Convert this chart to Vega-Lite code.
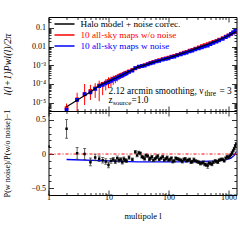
{
  "$schema": "https://vega.github.io/schema/vega-lite/v6.json",
  "padding": {"left": 1.5, "top": 14, "right": 2, "bottom": 2},
  "spacing": 0,
  "bounds": "flush",
  "config": {
    "view": {"stroke": "black", "strokeWidth": 1},
    "axis": {"domain": false, "grid": false, "labelFont": "Liberation Serif", "labelFontSize": 8, "labelColor": "black", "tickColor": "black", "tickWidth": 0.8, "titleFont": "Liberation Serif", "titleFontWeight": "normal", "titleColor": "black", "labelOverlap": false, "labelFlush": false},
    "text": {"font": "Liberation Serif"}
  },
  "datasets": {
    "red": [
      {"l": 2, "v": 5.2e-6, "lo": 3.7e-6, "hi": 9e-6},
      {"l": 3, "v": 1.5e-5, "lo": 3.4e-6, "hi": 3.4e-5},
      {"l": 4, "v": 2.8e-5, "lo": 7.5e-6, "hi": 1.0e-4},
      {"l": 5, "v": 4.3e-5, "lo": 1.4e-5, "hi": 9e-5},
      {"l": 6, "v": 5.8e-5, "lo": 1.8e-5, "hi": 1.1e-4},
      {"l": 7, "v": 8.5e-5, "lo": 1.2e-5, "hi": 1.5e-4},
      {"l": 8, "v": 1.0e-4, "lo": 2.5e-5, "hi": 1.3e-4},
      {"l": 9, "v": 1.2e-4, "lo": 4.5e-5, "hi": 1.8e-4},
      {"l": 10, "v": 1.45e-4, "lo": 6e-5, "hi": 2.3e-4},
      {"l": 11, "v": 1.6e-4, "lo": 7e-5, "hi": 2.5e-4},
      {"l": 12, "v": 1.9e-4, "lo": 9e-5, "hi": 2.8e-4},
      {"l": 13, "v": 2.1e-4, "lo": 1.1e-4, "hi": 3.0e-4},
      {"l": 14, "v": 2.35e-4, "lo": 1.35e-4, "hi": 3.3e-4},
      {"l": 15, "v": 2.6e-4, "lo": 1.6e-4, "hi": 3.6e-4},
      {"l": 16, "v": 2.95e-4, "lo": 1.9e-4, "hi": 3.9e-4},
      {"l": 17, "v": 3.2e-4, "lo": 2.2e-4, "hi": 4.2e-4},
      {"l": 18, "v": 3.45e-4, "lo": 2.45e-4, "hi": 4.5e-4},
      {"l": 19, "v": 3.8e-4, "lo": 2.8e-4, "hi": 4.8e-4},
      {"l": 20, "v": 4.1e-4, "lo": 3.1e-4, "hi": 5.1e-4},
      {"l": 22, "v": 4.7e-4, "lo": 3.7e-4, "hi": 5.7e-4},
      {"l": 25, "v": 5.7e-4, "lo": 4.7e-4, "hi": 6.8e-4},
      {"l": 28, "v": 6.8e-4, "lo": 5.7e-4, "hi": 7.9e-4},
      {"l": 32, "v": 8.2e-4, "lo": 7.0e-4, "hi": 9.4e-4},
      {"l": 36, "v": 9.3e-4, "lo": 8.1e-4, "hi": 1.05e-3},
      {"l": 40, "v": 1.03e-3, "lo": 9.2e-4, "hi": 1.15e-3},
      {"l": 45, "v": 1.17e-3, "lo": 1.06e-3, "hi": 1.28e-3},
      {"l": 50, "v": 1.34e-3, "lo": 1.24e-3, "hi": 1.44e-3},
      {"l": 56, "v": 1.5e-3, "lo": 1.4e-3, "hi": 1.6e-3},
      {"l": 63, "v": 1.68e-3, "lo": 1.58e-3, "hi": 1.78e-3},
      {"l": 70, "v": 1.86e-3, "lo": 1.76e-3, "hi": 1.96e-3},
      {"l": 80, "v": 2.1e-3, "lo": 2.0e-3, "hi": 2.2e-3},
      {"l": 90, "v": 2.35e-3, "lo": 2.24e-3, "hi": 2.46e-3},
      {"l": 100, "v": 2.58e-3, "lo": 2.46e-3, "hi": 2.7e-3},
      {"l": 112, "v": 2.9e-3, "lo": 2.77e-3, "hi": 3.03e-3},
      {"l": 125, "v": 3.22e-3, "lo": 3.08e-3, "hi": 3.36e-3},
      {"l": 140, "v": 3.64e-3, "lo": 3.48e-3, "hi": 3.8e-3},
      {"l": 160, "v": 4.18e-3, "lo": 4.0e-3, "hi": 4.36e-3},
      {"l": 180, "v": 4.7e-3, "lo": 4.5e-3, "hi": 4.9e-3},
      {"l": 200, "v": 5.25e-3, "lo": 5.03e-3, "hi": 5.47e-3},
      {"l": 225, "v": 6.02e-3, "lo": 5.77e-3, "hi": 6.27e-3},
      {"l": 250, "v": 6.75e-3, "lo": 6.48e-3, "hi": 7.02e-3},
      {"l": 280, "v": 7.74e-3, "lo": 7.43e-3, "hi": 8.05e-3},
      {"l": 320, "v": 9.1e-3, "lo": 8.74e-3, "hi": 9.46e-3},
      {"l": 360, "v": 1.044e-2, "lo": 1.0e-2, "hi": 1.088e-2},
      {"l": 400, "v": 1.187e-2, "lo": 1.14e-2, "hi": 1.234e-2},
      {"l": 450, "v": 1.36e-2, "lo": 1.31e-2, "hi": 1.41e-2},
      {"l": 500, "v": 1.545e-2, "lo": 1.49e-2, "hi": 1.6e-2},
      {"l": 560, "v": 1.78e-2, "lo": 1.72e-2, "hi": 1.84e-2},
      {"l": 630, "v": 2.03e-2, "lo": 1.96e-2, "hi": 2.1e-2},
      {"l": 700, "v": 2.37e-2, "lo": 2.29e-2, "hi": 2.45e-2},
      {"l": 800, "v": 2.82e-2, "lo": 2.73e-2, "hi": 2.91e-2},
      {"l": 900, "v": 3.43e-2, "lo": 3.32e-2, "hi": 3.54e-2},
      {"l": 1000, "v": 4.02e-2, "lo": 3.89e-2, "hi": 4.15e-2},
      {"l": 1100, "v": 4.74e-2, "lo": 4.59e-2, "hi": 4.89e-2},
      {"l": 1200, "v": 5.5e-2, "lo": 5.33e-2, "hi": 5.67e-2},
      {"l": 1300, "v": 6.23e-2, "lo": 6.04e-2, "hi": 6.42e-2}
    ],
    "blue": [
      {"l": 2, "v": 4.1e-6, "lo": 3.7e-6, "hi": 4.6e-6},
      {"l": 3, "v": 1.42e-5, "lo": 1.2e-5, "hi": 1.65e-5},
      {"l": 4, "v": 2.9e-5, "lo": 2.5e-5, "hi": 3.3e-5},
      {"l": 5, "v": 3.6e-5, "lo": 3.2e-5, "hi": 4.1e-5},
      {"l": 6, "v": 5.4e-5, "lo": 4.8e-5, "hi": 6.0e-5},
      {"l": 7, "v": 7.6e-5, "lo": 6.8e-5, "hi": 8.4e-5},
      {"l": 8, "v": 9.0e-5, "lo": 8.1e-5, "hi": 1.0e-4},
      {"l": 9, "v": 1.08e-4, "lo": 9.8e-5, "hi": 1.18e-4},
      {"l": 10, "v": 1.25e-4, "lo": 1.14e-4, "hi": 1.36e-4},
      {"l": 11, "v": 1.46e-4, "lo": 1.35e-4, "hi": 1.57e-4},
      {"l": 12, "v": 1.76e-4, "lo": 1.63e-4, "hi": 1.89e-4},
      {"l": 13, "v": 1.88e-4, "lo": 1.74e-4, "hi": 2.02e-4},
      {"l": 14, "v": 2.22e-4, "lo": 2.06e-4, "hi": 2.38e-4},
      {"l": 15, "v": 2.37e-4, "lo": 2.2e-4, "hi": 2.54e-4},
      {"l": 16, "v": 2.72e-4, "lo": 2.53e-4, "hi": 2.91e-4},
      {"l": 17, "v": 2.82e-4, "lo": 2.63e-4, "hi": 3.01e-4},
      {"l": 18, "v": 3.2e-4, "lo": 2.99e-4, "hi": 3.41e-4},
      {"l": 19, "v": 3.46e-4, "lo": 3.23e-4, "hi": 3.69e-4},
      {"l": 20, "v": 3.7e-4, "lo": 3.46e-4, "hi": 3.94e-4},
      {"l": 22, "v": 4.45e-4, "lo": 4.2e-4, "hi": 4.7e-4},
      {"l": 25, "v": 5.25e-4, "lo": 4.95e-4, "hi": 5.55e-4},
      {"l": 28, "v": 7.0e-4, "lo": 6.6e-4, "hi": 7.4e-4},
      {"l": 32, "v": 8.35e-4, "lo": 7.9e-4, "hi": 8.8e-4},
      {"l": 36, "v": 8.9e-4, "lo": 8.45e-4, "hi": 9.35e-4},
      {"l": 40, "v": 9.6e-4, "lo": 9.1e-4, "hi": 1.01e-3},
      {"l": 45, "v": 1.13e-3, "lo": 1.08e-3, "hi": 1.18e-3},
      {"l": 50, "v": 1.26e-3, "lo": 1.2e-3, "hi": 1.32e-3},
      {"l": 56, "v": 1.37e-3, "lo": 1.33e-3, "hi": 1.41e-3},
      {"l": 63, "v": 1.6e-3, "lo": 1.55e-3, "hi": 1.65e-3},
      {"l": 70, "v": 1.71e-3, "lo": 1.66e-3, "hi": 1.76e-3},
      {"l": 80, "v": 2.02e-3, "lo": 1.96e-3, "hi": 2.08e-3},
      {"l": 90, "v": 2.19e-3, "lo": 2.12e-3, "hi": 2.26e-3},
      {"l": 100, "v": 2.35e-3, "lo": 2.28e-3, "hi": 2.42e-3},
      {"l": 112, "v": 2.73e-3, "lo": 2.65e-3, "hi": 2.81e-3},
      {"l": 125, "v": 2.9e-3, "lo": 2.81e-3, "hi": 2.99e-3},
      {"l": 140, "v": 3.39e-3, "lo": 3.29e-3, "hi": 3.49e-3},
      {"l": 160, "v": 3.8e-3, "lo": 3.69e-3, "hi": 3.91e-3},
      {"l": 180, "v": 4.32e-3, "lo": 4.19e-3, "hi": 4.45e-3},
      {"l": 200, "v": 4.72e-3, "lo": 4.58e-3, "hi": 4.86e-3},
      {"l": 225, "v": 5.54e-3, "lo": 5.37e-3, "hi": 5.71e-3},
      {"l": 250, "v": 6.0e-3, "lo": 5.82e-3, "hi": 6.18e-3},
      {"l": 280, "v": 6.97e-3, "lo": 6.76e-3, "hi": 7.18e-3},
      {"l": 320, "v": 8.0e-3, "lo": 7.76e-3, "hi": 8.24e-3},
      {"l": 360, "v": 9.08e-3, "lo": 8.81e-3, "hi": 9.35e-3},
      {"l": 400, "v": 1.01e-2, "lo": 9.8e-3, "hi": 1.04e-2},
      {"l": 450, "v": 1.13e-2, "lo": 1.1e-2, "hi": 1.16e-2},
      {"l": 500, "v": 1.33e-2, "lo": 1.29e-2, "hi": 1.37e-2},
      {"l": 560, "v": 1.57e-2, "lo": 1.52e-2, "hi": 1.62e-2},
      {"l": 630, "v": 1.81e-2, "lo": 1.76e-2, "hi": 1.86e-2},
      {"l": 700, "v": 2.16e-2, "lo": 2.1e-2, "hi": 2.22e-2},
      {"l": 800, "v": 2.59e-2, "lo": 2.51e-2, "hi": 2.67e-2},
      {"l": 900, "v": 3.22e-2, "lo": 3.12e-2, "hi": 3.32e-2},
      {"l": 1000, "v": 3.82e-2, "lo": 3.71e-2, "hi": 3.93e-2},
      {"l": 1100, "v": 4.69e-2, "lo": 4.55e-2, "hi": 4.83e-2},
      {"l": 1200, "v": 5.78e-2, "lo": 5.61e-2, "hi": 5.95e-2},
      {"l": 1300, "v": 6.98e-2, "lo": 6.77e-2, "hi": 7.19e-2}
    ],
    "halo": [
      {"l": 2, "v": 6.1e-6}, {"l": 3, "v": 1.35e-5}, {"l": 4, "v": 2.4e-5}, {"l": 5, "v": 3.7e-5},
      {"l": 7, "v": 8.3e-5}, {"l": 10, "v": 1.4e-4}, {"l": 15, "v": 2.5e-4}, {"l": 20, "v": 4.0e-4},
      {"l": 30, "v": 7.7e-4}, {"l": 50, "v": 1.3e-3}, {"l": 70, "v": 1.8e-3}, {"l": 100, "v": 2.5e-3},
      {"l": 150, "v": 3.8e-3}, {"l": 200, "v": 5.1e-3}, {"l": 300, "v": 8.2e-3}, {"l": 500, "v": 1.5e-2},
      {"l": 700, "v": 2.3e-2}, {"l": 1000, "v": 3.9e-2}, {"l": 1360, "v": 6.5e-2}
    ],
    "ratio": [
      {"l": 1, "r": 0.11, "lo": 0.11, "hi": 0.11},
      {"l": 2, "r": 0.37, "lo": 0.23, "hi": 0.505},
      {"l": 3, "r": 0.01, "lo": -0.075, "hi": 0.095},
      {"l": 4, "r": 0.0, "lo": -0.08, "hi": 0.08},
      {"l": 5, "r": -0.12, "lo": -0.17, "hi": -0.06},
      {"l": 6, "r": -0.05, "lo": -0.095, "hi": -0.005},
      {"l": 7, "r": -0.07, "lo": -0.11, "hi": -0.03},
      {"l": 8, "r": -0.09, "lo": -0.13, "hi": -0.05},
      {"l": 9, "r": -0.11, "lo": -0.15, "hi": -0.07},
      {"l": 10, "r": -0.16, "lo": -0.2, "hi": -0.12},
      {"l": 11, "r": -0.10, "lo": -0.135, "hi": -0.065},
      {"l": 12, "r": -0.08, "lo": -0.11, "hi": -0.05},
      {"l": 13, "r": -0.11, "lo": -0.14, "hi": -0.08},
      {"l": 14, "r": -0.06, "lo": -0.09, "hi": -0.03},
      {"l": 15, "r": -0.09, "lo": -0.12, "hi": -0.06},
      {"l": 16, "r": -0.08, "lo": -0.105, "hi": -0.055},
      {"l": 17, "r": -0.12, "lo": -0.145, "hi": -0.095},
      {"l": 18, "r": -0.07, "lo": -0.095, "hi": -0.045},
      {"l": 19, "r": -0.09, "lo": -0.115, "hi": -0.065},
      {"l": 20, "r": -0.10, "lo": -0.125, "hi": -0.075},
      {"l": 22, "r": -0.05, "lo": -0.075, "hi": -0.025},
      {"l": 25, "r": -0.08, "lo": -0.1, "hi": -0.06},
      {"l": 28, "r": 0.03, "lo": 0.01, "hi": 0.05},
      {"l": 30, "r": -0.02, "lo": -0.04, "hi": 0.0},
      {"l": 32, "r": 0.02, "lo": 0.0, "hi": 0.04},
      {"l": 34, "r": 0.01, "lo": -0.01, "hi": 0.03},
      {"l": 36, "r": -0.04, "lo": -0.06, "hi": -0.02},
      {"l": 38, "r": -0.05, "lo": -0.07, "hi": -0.03},
      {"l": 40, "r": -0.07, "lo": -0.09, "hi": -0.05},
      {"l": 42, "r": -0.02, "lo": -0.04, "hi": 0.0},
      {"l": 45, "r": -0.03, "lo": -0.05, "hi": -0.01},
      {"l": 48, "r": -0.08, "lo": -0.1, "hi": -0.06},
      {"l": 50, "r": -0.06, "lo": -0.08, "hi": -0.04},
      {"l": 53, "r": -0.04, "lo": -0.06, "hi": -0.02},
      {"l": 56, "r": -0.09, "lo": -0.11, "hi": -0.07},
      {"l": 60, "r": -0.07, "lo": -0.09, "hi": -0.05},
      {"l": 63, "r": -0.05, "lo": -0.07, "hi": -0.03},
      {"l": 66, "r": -0.03, "lo": -0.05, "hi": -0.01},
      {"l": 70, "r": -0.08, "lo": -0.1, "hi": -0.06},
      {"l": 75, "r": -0.06, "lo": -0.08, "hi": -0.04},
      {"l": 80, "r": -0.04, "lo": -0.06, "hi": -0.02},
      {"l": 85, "r": -0.09, "lo": -0.11, "hi": -0.07},
      {"l": 90, "r": -0.07, "lo": -0.09, "hi": -0.05},
      {"l": 95, "r": -0.05, "lo": -0.07, "hi": -0.03},
      {"l": 100, "r": -0.09, "lo": -0.11, "hi": -0.07},
      {"l": 106, "r": -0.08, "lo": -0.1, "hi": -0.06},
      {"l": 112, "r": -0.06, "lo": -0.08, "hi": -0.04},
      {"l": 118, "r": -0.11, "lo": -0.13, "hi": -0.09},
      {"l": 125, "r": -0.10, "lo": -0.12, "hi": -0.08},
      {"l": 132, "r": -0.06, "lo": -0.08, "hi": -0.04},
      {"l": 140, "r": -0.07, "lo": -0.09, "hi": -0.05},
      {"l": 150, "r": -0.08, "lo": -0.1, "hi": -0.06},
      {"l": 160, "r": -0.09, "lo": -0.11, "hi": -0.07},
      {"l": 170, "r": -0.11, "lo": -0.13, "hi": -0.09},
      {"l": 180, "r": -0.08, "lo": -0.1, "hi": -0.06},
      {"l": 190, "r": -0.07, "lo": -0.09, "hi": -0.05},
      {"l": 200, "r": -0.10, "lo": -0.12, "hi": -0.08},
      {"l": 212, "r": -0.09, "lo": -0.11, "hi": -0.07},
      {"l": 225, "r": -0.08, "lo": -0.1, "hi": -0.06},
      {"l": 238, "r": -0.12, "lo": -0.14, "hi": -0.1},
      {"l": 250, "r": -0.11, "lo": -0.13, "hi": -0.09},
      {"l": 265, "r": -0.08, "lo": -0.1, "hi": -0.06},
      {"l": 280, "r": -0.10, "lo": -0.12, "hi": -0.08},
      {"l": 300, "r": -0.11, "lo": -0.13, "hi": -0.09},
      {"l": 320, "r": -0.12, "lo": -0.14, "hi": -0.1},
      {"l": 340, "r": -0.14, "lo": -0.16, "hi": -0.12},
      {"l": 360, "r": -0.13, "lo": -0.15, "hi": -0.11},
      {"l": 380, "r": -0.12, "lo": -0.14, "hi": -0.1},
      {"l": 400, "r": -0.15, "lo": -0.17, "hi": -0.13},
      {"l": 425, "r": -0.16, "lo": -0.18, "hi": -0.14},
      {"l": 450, "r": -0.17, "lo": -0.21, "hi": -0.13},
      {"l": 475, "r": -0.13, "lo": -0.15, "hi": -0.11},
      {"l": 500, "r": -0.14, "lo": -0.16, "hi": -0.12},
      {"l": 530, "r": -0.15, "lo": -0.17, "hi": -0.13},
      {"l": 560, "r": -0.12, "lo": -0.14, "hi": -0.1},
      {"l": 600, "r": -0.10, "lo": -0.12, "hi": -0.08},
      {"l": 630, "r": -0.11, "lo": -0.13, "hi": -0.09},
      {"l": 665, "r": -0.12, "lo": -0.14, "hi": -0.1},
      {"l": 700, "r": -0.09, "lo": -0.11, "hi": -0.07},
      {"l": 750, "r": -0.08, "lo": -0.1, "hi": -0.06},
      {"l": 800, "r": -0.08, "lo": -0.1, "hi": -0.06},
      {"l": 850, "r": -0.10, "lo": -0.12, "hi": -0.08},
      {"l": 900, "r": -0.06, "lo": -0.08, "hi": -0.04},
      {"l": 950, "r": -0.04, "lo": -0.06, "hi": -0.02},
      {"l": 1000, "r": -0.05, "lo": -0.07, "hi": -0.03},
      {"l": 1050, "r": -0.03, "lo": -0.05, "hi": -0.01},
      {"l": 1100, "r": -0.01, "lo": -0.03, "hi": 0.01},
      {"l": 1150, "r": 0.02, "lo": 0.0, "hi": 0.04},
      {"l": 1200, "r": 0.05, "lo": 0.03, "hi": 0.07},
      {"l": 1250, "r": 0.08, "lo": 0.06, "hi": 0.1},
      {"l": 1300, "r": 0.12, "lo": 0.1, "hi": 0.14},
      {"l": 1350, "r": 0.15, "lo": 0.13, "hi": 0.17}
    ],
    "fit": [
      {"l": 2, "r": -0.08}, {"l": 10, "r": -0.10}, {"l": 30, "r": -0.115}, {"l": 100, "r": -0.115},
      {"l": 300, "r": -0.11}, {"l": 600, "r": -0.10}, {"l": 900, "r": -0.085}, {"l": 1100, "r": -0.06},
      {"l": 1250, "r": -0.02}, {"l": 1360, "r": 0.04}
    ]
  },
  "vconcat": [
    {
      "width": 188,
      "height": 94,
      "resolve": {"axis": {"x": "independent", "y": "independent"}},
      "layer": [
        {
          "data": {"name": "red"},
          "mark": {"type": "rule", "strokeWidth": 1, "clip": true},
          "encoding": {
            "x": {"field": "l", "type": "quantitative", "scale": {"type": "log", "domain": [1, 1360], "nice": false},
              "axis": {"orient": "bottom", "values": [1,2,3,4,5,6,7,8,9,10,20,30,40,50,60,70,80,90,100,200,300,400,500,600,700,800,900,1000], "labels": false, "title": null,
                "tickSize": {"condition": {"test": "datum.value==1||datum.value==10||datum.value==100||datum.value==1000", "value": -5}, "value": -2.5}}},
            "y": {"field": "lo", "type": "quantitative", "scale": {"type": "log", "domain": [3.6e-6, 0.38], "nice": false},
              "axis": {"orient": "left", "values": [4e-6,5e-6,6e-6,7e-6,8e-6,9e-6,1e-5,2e-5,3e-5,4e-5,5e-5,6e-5,7e-5,8e-5,9e-5,1e-4,2e-4,3e-4,4e-4,5e-4,6e-4,7e-4,8e-4,9e-4,0.001,0.002,0.003,0.004,0.005,0.006,0.007,0.008,0.009,0.01,0.02,0.03,0.04,0.05,0.06,0.07,0.08,0.09,0.1,0.2,0.3],
                "labelExpr": "datum.value==0.1?'0.1':datum.value==0.01?'0.01':datum.value==0.001?'10⁻³':datum.value==0.0001?'10⁻⁴':datum.value==0.00001?'10⁻⁵':''",
                "tickSize": {"condition": {"test": "datum.value==0.1||datum.value==0.01||datum.value==0.001||datum.value==0.0001||datum.value==0.00001", "value": -5}, "value": -2.5},
                "labelPadding": 8,
                "title": "l(l+1)Pwl(l)/2π", "titleFontSize": 10, "titleFontStyle": "italic", "titleX": -36}},
            "y2": {"field": "hi"},
            "color": {"datum": "10 all-sky maps w/o noise",
              "scale": {"domain": ["Halo model + noise correc.", "10 all-sky maps w/o noise", "10 all-sky maps w noise"], "range": ["black", "#ff0000", "#0000ff"]},
              "legend": {"orient": "none", "legendX": 11, "legendY": 2, "title": null,
                "symbolType": "M-2.5,0H2.5", "symbolSize": 64, "symbolStrokeWidth": 1.5,
                "labelFont": "Liberation Serif", "labelFontSize": 9.2, "labelOffset": 11, "rowPadding": -1,
                "encode": {
                  "labels": {"update": {"fill": {"signal": "datum.value=='Halo model + noise correc.'?'black':datum.value=='10 all-sky maps w/o noise'?'#ff0000':'#0000ff'"}}},
                  "symbols": {"update": {"stroke": {"signal": "datum.value=='Halo model + noise correc.'?'black':datum.value=='10 all-sky maps w/o noise'?'#ff0000':'#0000ff'"}, "fill": {"value": "transparent"}}}
                }}}
          }
        },
        {
          "data": {"name": "red"},
          "mark": {"type": "square", "size": 14, "opacity": 1, "clip": true},
          "encoding": {
            "x": {"field": "l", "type": "quantitative",
              "axis": {"orient": "top", "values": [1,2,3,4,5,6,7,8,9,10,20,30,40,50,60,70,80,90,100,200,300,400,500,600,700,800,900,1000], "labels": false, "title": null,
                "tickSize": {"condition": {"test": "datum.value==1||datum.value==10||datum.value==100||datum.value==1000", "value": -5}, "value": -2.5}}},
            "y": {"field": "v", "type": "quantitative",
              "axis": {"orient": "right", "values": [4e-6,5e-6,6e-6,7e-6,8e-6,9e-6,1e-5,2e-5,3e-5,4e-5,5e-5,6e-5,7e-5,8e-5,9e-5,1e-4,2e-4,3e-4,4e-4,5e-4,6e-4,7e-4,8e-4,9e-4,0.001,0.002,0.003,0.004,0.005,0.006,0.007,0.008,0.009,0.01,0.02,0.03,0.04,0.05,0.06,0.07,0.08,0.09,0.1,0.2,0.3], "labels": false, "title": null,
                "tickSize": {"condition": {"test": "datum.value==0.1||datum.value==0.01||datum.value==0.001||datum.value==0.0001||datum.value==0.00001", "value": -5}, "value": -2.5}}},
            "color": {"datum": "10 all-sky maps w/o noise"}
          }
        },
        {
          "data": {"name": "blue"},
          "mark": {"type": "rule", "strokeWidth": 1, "clip": true},
          "encoding": {
            "x": {"field": "l", "type": "quantitative", "axis": null},
            "y": {"field": "lo", "type": "quantitative", "axis": null},
            "y2": {"field": "hi"},
            "color": {"datum": "10 all-sky maps w noise"}
          }
        },
        {
          "data": {"name": "blue"},
          "mark": {"type": "square", "size": 14, "opacity": 1, "clip": true},
          "encoding": {
            "x": {"field": "l", "type": "quantitative", "axis": null},
            "y": {"field": "v", "type": "quantitative", "axis": null},
            "color": {"datum": "10 all-sky maps w noise"}
          }
        },
        {
          "data": {"name": "halo"},
          "mark": {"type": "line", "strokeWidth": 1.2, "clip": true},
          "encoding": {
            "x": {"field": "l", "type": "quantitative", "axis": null},
            "y": {"field": "v", "type": "quantitative", "axis": null},
            "color": {"datum": "Halo model + noise correc."}
          }
        },
        {
          "data": {"values": [{"t": "2.12 arcmin smoothing, ν"}]},
          "mark": {"type": "text", "align": "left", "baseline": "middle", "fontSize": 9.3, "color": "black"},
          "encoding": {"x": {"datum": 10, "axis": null}, "y": {"datum": 4.4e-5, "axis": null}, "text": {"field": "t"}}
        },
        {
          "data": {"values": [{"t": "thre"}]},
          "mark": {"type": "text", "align": "left", "baseline": "middle", "fontSize": 7.5, "color": "black", "dx": 96, "dy": 3},
          "encoding": {"x": {"datum": 10, "axis": null}, "y": {"datum": 4.4e-5, "axis": null}, "text": {"field": "t"}}
        },
        {
          "data": {"values": [{"t": "= 3"}]},
          "mark": {"type": "text", "align": "left", "baseline": "middle", "fontSize": 9.3, "color": "black", "dx": 111},
          "encoding": {"x": {"datum": 10, "axis": null}, "y": {"datum": 4.4e-5, "axis": null}, "text": {"field": "t"}}
        },
        {
          "data": {"values": [{"t": "z"}]},
          "mark": {"type": "text", "align": "left", "baseline": "middle", "fontSize": 9.3, "color": "black"},
          "encoding": {"x": {"datum": 10, "axis": null}, "y": {"datum": 1.39e-5, "axis": null}, "text": {"field": "t"}}
        },
        {
          "data": {"values": [{"t": "source"}]},
          "mark": {"type": "text", "align": "left", "baseline": "middle", "fontSize": 7, "color": "black", "dx": 4.5, "dy": 3},
          "encoding": {"x": {"datum": 10, "axis": null}, "y": {"datum": 1.39e-5, "axis": null}, "text": {"field": "t"}}
        },
        {
          "data": {"values": [{"t": "=1.0"}]},
          "mark": {"type": "text", "align": "left", "baseline": "middle", "fontSize": 9.3, "color": "black", "dx": 23},
          "encoding": {"x": {"datum": 10, "axis": null}, "y": {"datum": 1.39e-5, "axis": null}, "text": {"field": "t"}}
        }
      ]
    },
    {
      "width": 188,
      "height": 84,
      "resolve": {"axis": {"x": "independent", "y": "independent"}},
      "layer": [
        {
          "data": {"name": "fit"},
          "mark": {"type": "line", "strokeWidth": 1.3, "color": "#0000ff", "clip": true},
          "encoding": {
            "x": {"field": "l", "type": "quantitative", "scale": {"type": "log", "domain": [1, 1360], "nice": false},
              "axis": {"orient": "bottom", "values": [1,2,3,4,5,6,7,8,9,10,20,30,40,50,60,70,80,90,100,200,300,400,500,600,700,800,900,1000], "format": "d",
                "labelExpr": "datum.value==1||datum.value==10||datum.value==100||datum.value==1000?datum.label:''",
                "tickSize": {"condition": {"test": "datum.value==1||datum.value==10||datum.value==100||datum.value==1000", "value": -5}, "value": -2.5},
                "labelPadding": 3,
                "title": "multipole l", "titleFontSize": 8.5, "titlePadding": 8}},
            "y": {"field": "r", "type": "quantitative", "scale": {"domain": [-0.6, 0.63], "nice": false, "zero": false},
              "axis": {"orient": "left", "values": [-0.6,-0.5,-0.4,-0.3,-0.2,-0.1,0,0.1,0.2,0.3,0.4,0.5,0.6],
                "labelExpr": "datum.value==0.5?'0.5':datum.value==0?'0':datum.value==-0.5?'−0.5':''",
                "tickSize": {"condition": {"test": "datum.value==0.5||datum.value==0||datum.value==-0.5", "value": -5}, "value": -2.5},
                "labelPadding": 8,
                "title": "P(w noise)/P(w/o noise)−1", "titleFontSize": 8.2, "titleX": -37}}
          }
        },
        {
          "data": {"values": [{"zero": 0}]},
          "mark": {"type": "rule", "color": "#ff0000", "strokeWidth": 1, "strokeDash": [3, 2, 1, 2]},
          "encoding": {
            "y": {"field": "zero", "type": "quantitative",
              "axis": {"orient": "right", "values": [-0.6,-0.5,-0.4,-0.3,-0.2,-0.1,0,0.1,0.2,0.3,0.4,0.5,0.6], "labels": false, "title": null,
                "tickSize": {"condition": {"test": "datum.value==0.5||datum.value==0||datum.value==-0.5", "value": -5}, "value": -2.5}}}
          }
        },
        {
          "data": {"name": "ratio"},
          "mark": {"type": "errorbar", "ticks": {"size": 3, "color": "#333333"}, "rule": {"color": "#333333", "strokeWidth": 0.8}, "clip": true},
          "encoding": {
            "x": {"field": "l", "type": "quantitative",
              "axis": {"orient": "top", "values": [1,2,3,4,5,6,7,8,9,10,20,30,40,50,60,70,80,90,100,200,300,400,500,600,700,800,900,1000], "labels": false, "title": null,
                "tickSize": {"condition": {"test": "datum.value==1||datum.value==10||datum.value==100||datum.value==1000", "value": -5}, "value": -2.5}}},
            "y": {"field": "lo", "type": "quantitative", "axis": null},
            "y2": {"field": "hi"}
          }
        },
        {
          "data": {"name": "ratio"},
          "mark": {"type": "square", "size": 6, "color": "black", "opacity": 1, "clip": true},
          "encoding": {
            "x": {"field": "l", "type": "quantitative", "axis": null},
            "y": {"field": "r", "type": "quantitative", "axis": null}
          }
        }
      ]
    }
  ]
}
